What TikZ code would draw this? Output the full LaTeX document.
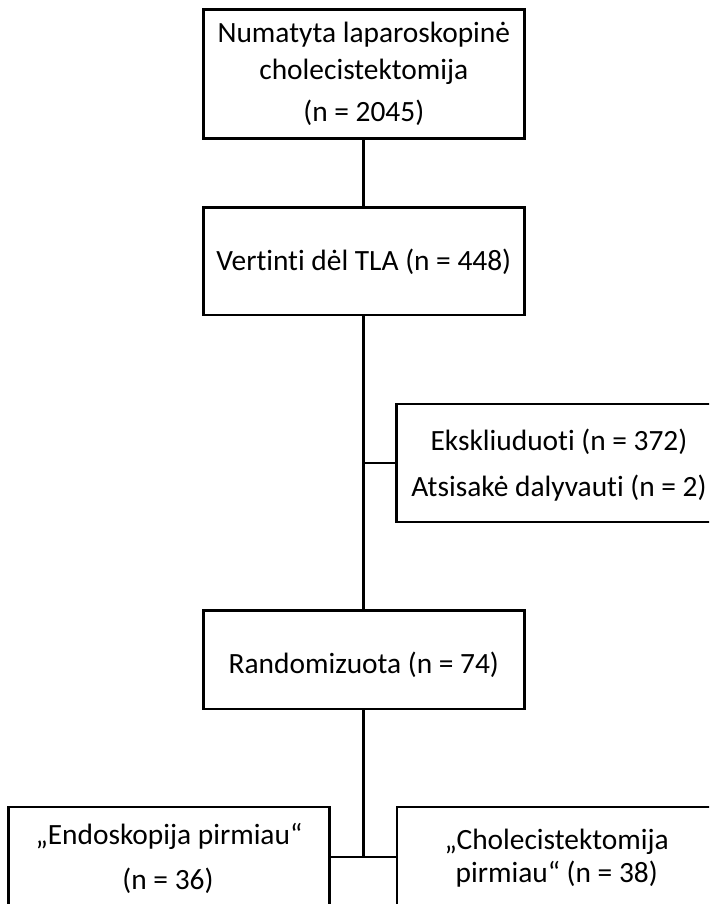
\documentclass[tikz,border=0pt]{standalone}
\usepackage{fontspec}
\setmainfont{Carlito}[Ligatures=NoCommon]
\begin{document}
\begin{tikzpicture}[x=1pt,y=-1pt,
  box/.style={draw, line width=2.7pt, rectangle, inner sep=0pt, minimum width=321pt},
  link/.style={line width=2.7pt},
  lbl/.style={anchor=base, inner sep=0pt, font=\fontsize{29.4}{35}\selectfont}]
\useasboundingbox (0,0) rectangle (709,904);
\clip (0,0) rectangle (709,904);

% flow boxes
\node[box, minimum height=129pt]   (plan) at (363.8,73.8)  {};
\node[box, minimum height=107.7pt] (eval) at (363.8,261.2) {};
\node[box, minimum height=118pt]   (excl) at (556.8,463)   {};
\node[box, minimum height=98.3pt]  (rand) at (363.8,659.9) {};
\node[box, minimum height=193pt]   (armA) at (168.7,903.5) {};
\node[box, minimum height=193pt]   (armB) at (557.5,903.5) {};

% labels
\node[lbl] (t1a) at (363.8,43)  {Numatyta laparoskopinė};
\node[lbl] (t1b) at (363.8,80)  {cholecistektomija};
\node[lbl] (t1c) at (363.8,122) {(n = 2045)};
\node[lbl] (t2)  at (363.8,270) {Vertinti dėl TLA (n = 448)};
\node[lbl] (t3a) at (559,450)   {Ekskliuduoti (n = 372)};
\node[lbl] (t3b) at (559,496)   {Atsisakė dalyvauti (n = 2)};
\node[lbl] (t4)  at (363.8,673) {Randomizuota (n = 74)};
\node[lbl] (t5a) at (169,844)   {„Endoskopija pirmiau“};
\node[lbl] (t5b) at (168,889)   {(n = 36)};
\node[lbl] (t6a) at (556.7,849) {„Cholecistektomija};
\node[lbl] (t6b) at (556.7,882) {pirmiau“ (n = 38)};

% connectors
\coordinate (jx) at (eval.south |- excl.west);
\coordinate (jr) at (363.8,857);
\draw[link] (plan.south) -- (eval.north);
\draw[link] (eval.south) -- (rand.north);
\draw[link] (jx) -- (excl.west);
\draw[link] (rand.south) -- (jr);
\draw[link] (armA.east |- jr) -- (armB.west |- jr);
\end{tikzpicture}
\end{document}
